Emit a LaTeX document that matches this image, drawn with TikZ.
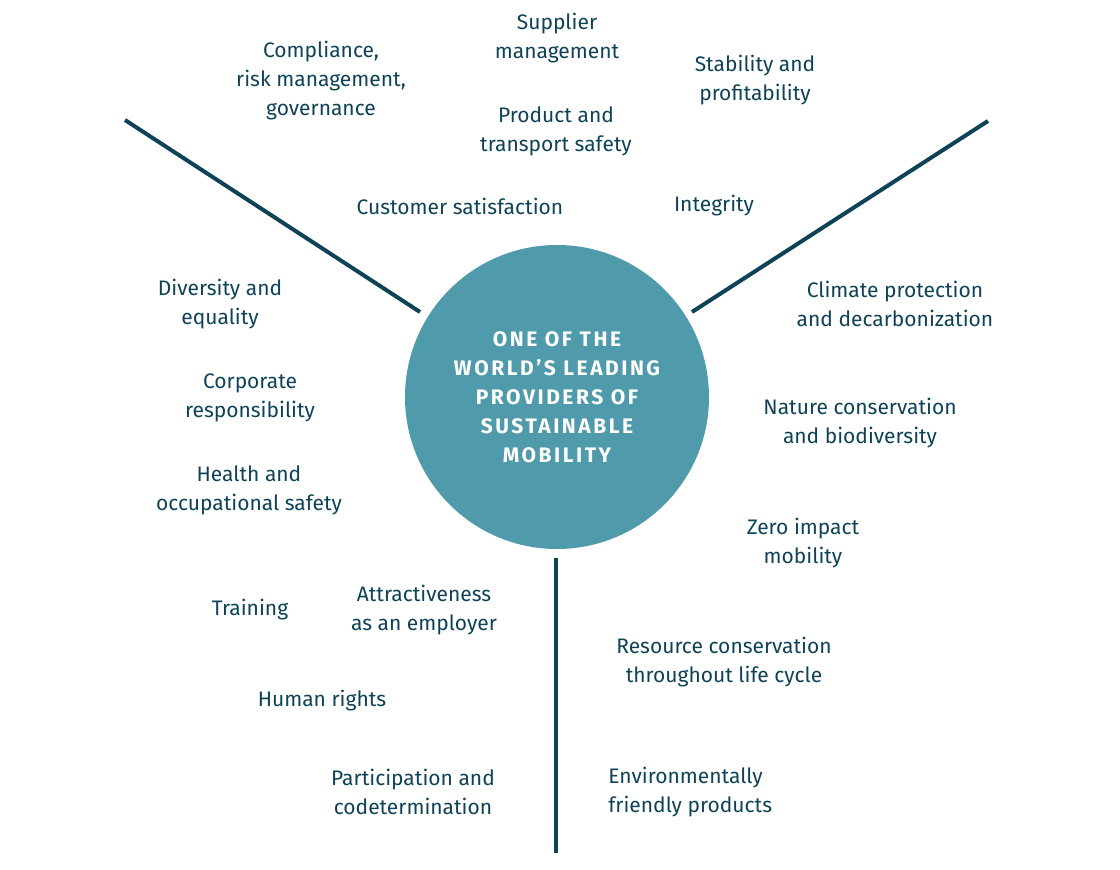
\documentclass[tikz,border=0pt]{standalone}
\usepackage{fontspec}
\setmainfont{Fira Sans}
\usetikzlibrary{positioning}
\definecolor{line colour}{HTML}{0E4257}
\definecolor{circle colour}{HTML}{4F9AAB}
\tikzset{
    % one sustainability topic
    topic/.style={text=line colour, align=center, font=\fontsize{10.5}{14.5}\selectfont, inner sep=0pt},
    spoke/.style={draw=line colour, line width=2pt},
    hub/.style={circle, fill=circle colour, minimum size=152pt, inner sep=0pt,
        text=white, align=center,
        font=\fontsize{10.5}{14.5}\selectfont\bfseries\addfontfeatures{LetterSpace=12}},
}
\begin{document}
\begin{tikzpicture}[x=0.5pt, y=-0.5pt]
\useasboundingbox (0,0) rectangle (1120,870);

\node [hub] (hub) at (557,397) {ONE OF THE\\WORLD’S LEADING\\PROVIDERS OF\\SUSTAINABLE\\MOBILITY};

\coordinate (left end) at (125,120);
\coordinate (left start) at (420,312);
\coordinate (right end) at (988,121);
\coordinate (right start) at (692,312);
\coordinate (down start) at (556,558);
\coordinate (down end) at (556,853);
\draw [spoke] (left start) -- (left end);
\draw [spoke] (right start) -- (right end);
\draw [spoke] (down start) -- (down end);

\node [topic] (supplier) at (557,38) {Supplier\\management};
\node [topic] (compliance) at (321,81) {Compliance,\\risk management,\\governance};
\node [topic] (stability) at (755,80) {Stability and\\profitability};
\node [topic] (product) at (556,131) {Product and\\transport safety};
\node [topic] (customer) at (460,206) {Customer satisfaction};
\node [topic] (integrity) at (714,206) {Integrity};
\node [topic] (diversity) at (220,304) {Diversity and\\equality};
\node [topic] (climate) at (895,304) {Climate protection\\and decarbonization};
\node [topic] (corporate) at (250,398) {Corporate\\responsibility};
\node [topic] (nature) at (860,423) {Nature conservation\\and biodiversity};
\node [topic] (health) at (249,490) {Health and\\occupational safety};
\node [topic] (zero) at (803,543) {Zero impact\\mobility};
\node [topic] (training) at (250,610) {Training};
\node [topic] (attract) at (424,610) {Attractiveness\\as an employer};
\node [topic] (resource) at (724,662) {Resource conservation\\throughout life cycle};
\node [topic] (rights) at (322,701) {Human rights};
\node [topic] (participation) at (413,792) {Participation and\\codetermination};
\node [topic, align=left, anchor=west] (environment) at (608,792) {Environmentally\\friendly products};
\end{tikzpicture}
\end{document}
